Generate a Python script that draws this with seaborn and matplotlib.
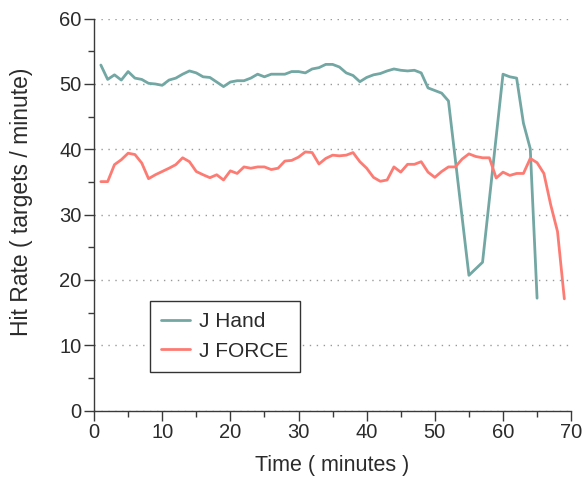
import numpy as np
import pandas as pd
import matplotlib
matplotlib.use("Agg")
import matplotlib.pyplot as plt
import seaborn as sns
from matplotlib.ticker import MultipleLocator

hand_minutes = [1, 2, 3, 4, 5, 6, 7, 8, 9, 10, 11, 12, 13, 14, 15, 16, 17, 18, 19, 20,
                21, 22, 23, 24, 25, 26, 27, 28, 29, 30, 31, 32, 33, 34, 35, 36, 37, 38, 39, 40,
                41, 42, 43, 44, 45, 46, 47, 48, 49, 50, 51, 52, 55, 57, 60, 61, 62, 63, 64, 65]
hand_rate = [52.9, 50.7, 51.4, 50.6, 51.9, 50.9, 50.7, 50.1, 50.0, 49.8,
             50.6, 50.9, 51.5, 52.0, 51.7, 51.1, 51.0, 50.3, 49.6, 50.3,
             50.5, 50.5, 50.9, 51.5, 51.1, 51.5, 51.5, 51.5, 51.9, 51.9,
             51.7, 52.3, 52.5, 53.0, 53.0, 52.6, 51.7, 51.3, 50.35, 51.0,
             51.4, 51.6, 52.0, 52.3, 52.1, 52.0, 52.1, 51.7, 49.4, 49.0,
             48.6, 47.4, 20.7, 22.7, 51.5, 51.1, 50.9, 44.0, 40.1, 17.2]

force_minutes = list(range(1, 70))
force_rate = [35.05, 35.05, 37.65, 38.4, 39.4, 39.2, 37.9, 35.5, 36.1, 36.6,
              37.1, 37.65, 38.7, 38.1, 36.6, 36.1, 35.65, 36.1, 35.3, 36.7,
              36.3, 37.3, 37.1, 37.3, 37.3, 36.9, 37.1, 38.2, 38.3, 38.8,
              39.6, 39.5, 37.75, 38.6, 39.1, 39.0, 39.1, 39.5, 38.1, 37.1,
              35.7, 35.1, 35.3, 37.3, 36.5, 37.7, 37.7, 38.1, 36.5, 35.7,
              36.6, 37.3, 37.3, 38.5, 39.3, 38.9, 38.7, 38.7, 35.6, 36.5,
              36.0, 36.3, 36.3, 38.6, 37.95, 36.3, 31.5, 27.4, 17.1]

series_names = ["J Hand", "J FORCE"]
x_ticks = [0, 10, 20, 30, 40, 50, 60, 70]
y_ticks = [0, 10, 20, 30, 40, 50, 60]

df = pd.concat([
    pd.DataFrame({"Time": hand_minutes, "Rate": hand_rate, "Series": series_names[0]}),
    pd.DataFrame({"Time": force_minutes, "Rate": force_rate, "Series": series_names[1]}),
], ignore_index=True)

sns.set_style("ticks")
plt.rcParams["font.family"] = ["Liberation Sans", "DejaVu Sans"]
text_col = "#2b2b2b"
axis_col = "#3a3a3a"

fig = plt.figure(figsize=(5.84, 4.79), dpi=100)
ax = fig.add_axes([0.161, 0.143, 0.817, 0.818])

palette = {"J Hand": "#72a7a3", "J FORCE": "#fc7c74"}
sns.lineplot(data=df, x="Time", y="Rate", hue="Series", palette=palette,
             hue_order=series_names, linewidth=2.0, ax=ax, sort=True,
             estimator=None)

ax.set_xlim(0, 70)
ax.set_ylim(0, 60)
ax.set_xticks(x_ticks)
ax.set_yticks(y_ticks)
ax.xaxis.set_minor_locator(MultipleLocator(5))
ax.yaxis.set_minor_locator(MultipleLocator(5))
ax.tick_params(axis="both", which="major", length=7, width=1.0, color=axis_col,
               labelsize=14.5, labelcolor=text_col, pad=2)
ax.tick_params(axis="both", which="minor", length=4, width=1.0, color=axis_col)

for s in ["top", "right"]:
    ax.spines[s].set_visible(False)
for s in ["left", "bottom"]:
    ax.spines[s].set_color(axis_col)
    ax.spines[s].set_linewidth(1.0)

ax.yaxis.grid(True, which="major", linestyle=(0, (1, 4)), color="#999999", linewidth=1.0)
ax.set_axisbelow(True)

ax.set_xlabel("Time ( minutes )", fontsize=15.5, color=text_col, labelpad=9)
ax.set_ylabel("Hit Rate ( targets / minute)", fontsize=16.5, color=text_col)
ax.yaxis.set_label_coords(-0.128, 0.532)

leg = ax.legend(loc="lower left", bbox_to_anchor=(0.117, 0.098), borderaxespad=0,
                frameon=True, fancybox=False, fontsize=15, handlelength=1.4,
                handletextpad=0.4, borderpad=0.55, labelspacing=0.5, framealpha=1)
leg.get_frame().set_edgecolor("#333333")
leg.get_frame().set_linewidth(1.0)
for t in leg.get_texts():
    t.set_color(text_col)

fig.savefig("out.png", dpi=100)
